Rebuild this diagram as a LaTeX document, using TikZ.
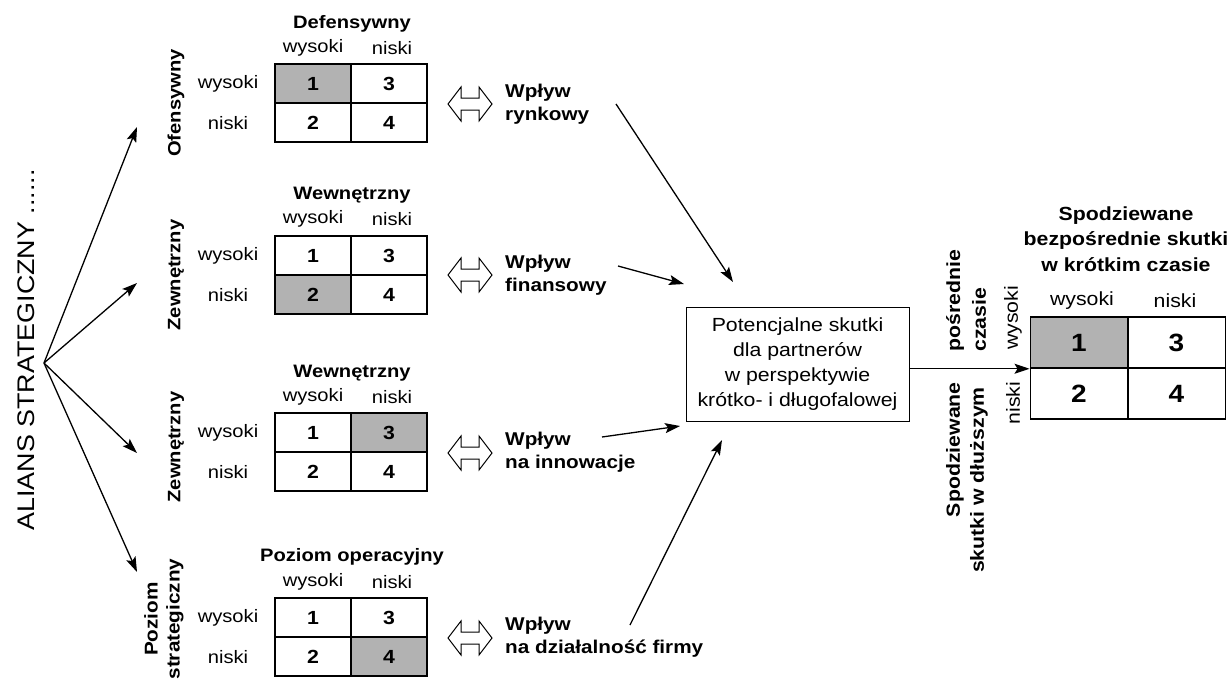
\documentclass[tikz,border=0pt]{standalone}
\usepackage{fontspec}
\setmainfont[FakeStretch=1.12]{Liberation Sans}
\usetikzlibrary{arrows.meta}
\begin{document}
\begin{tikzpicture}[x=1pt,y=-1pt,
  txt/.style={inner sep=0pt, font=\fontsize{18}{21}\selectfont},
  btxt/.style={inner sep=0pt, font=\fontsize{18}{21}\selectfont\bfseries},
  wtxt/.style={inner sep=0pt, align=left, font=\fontsize{18.5}{23}\selectfont\bfseries},
  cell/.style={draw, line width=1.5pt, minimum width=76pt, minimum height=39pt, inner sep=0pt, font=\fontsize{19}{21}\selectfont\bfseries},
  rcell/.style={cell, minimum width=97.5pt, minimum height=51pt, font=\fontsize{25}{28}\selectfont\bfseries},
  shaded/.style={fill=black!30},
  arr/.style={line width=1.3pt, -{Stealth[length=15pt,width=10pt,inset=3pt]}},
  dblarrow/.pic={\draw[line width=1pt, line join=miter]
     (-22,0) -- (-9,-17) -- (-9,-6) -- (9,-6) -- (9,-17) -- (22,0)
     -- (9,17) -- (9,6) -- (-9,6) -- (-9,17) -- cycle;}
]
\useasboundingbox (0,0) rectangle (1228,683);

% left title and fan arrows
\node[txt, font=\fontsize{24}{28}\selectfont, rotate=90] (alians) at (26,350) {ALIANS STRATEGICZNY ......};
\coordinate (o) at (44,363);
\coordinate (t1) at (137,127);
\coordinate (t2) at (137,283);
\coordinate (t3) at (137,453);
\coordinate (t4) at (137,572);
\foreach \t in {t1,t2,t3,t4} \draw[arr] (o) -- (\t);

% ---------- matrix 1 ----------
\node[btxt] (m1t) at (352,24) {Defensywny};
\node[txt] (m1h1) at (313,48) {wysoki};
\node[txt] (m1h2) at (392,48) {niski};
\node[txt] (m1r1) at (228,84) {wysoki};
\node[txt] (m1r2) at (228,123) {niski};
\node[btxt, rotate=90] (m1s) at (176,103) {Ofensywny};
\node[cell, shaded] (m1a) at (313,83.5) {1};
\node[cell] (m1b) at (389,83.5) {3};
\node[cell] (m1c) at (313,122.5) {2};
\node[cell] (m1d) at (389,122.5) {4};

% ---------- matrix 2 ----------
\node[btxt] (m2t) at (352,195) {Wewnętrzny};
\node[txt] (m2h1) at (313,219) {wysoki};
\node[txt] (m2h2) at (392,219) {niski};
\node[txt] (m2r1) at (228,256) {wysoki};
\node[txt] (m2r2) at (228,295) {niski};
\node[btxt, rotate=90] (m2s) at (176,275) {Zewnętrzny};
\node[cell] (m2a) at (313,255.5) {1};
\node[cell] (m2b) at (389,255.5) {3};
\node[cell, shaded] (m2c) at (313,294.5) {2};
\node[cell] (m2d) at (389,294.5) {4};

% ---------- matrix 3 ----------
\node[btxt] (m3t) at (352,373) {Wewnętrzny};
\node[txt] (m3h1) at (313,397) {wysoki};
\node[txt] (m3h2) at (392,397) {niski};
\node[txt] (m3r1) at (228,433) {wysoki};
\node[txt] (m3r2) at (228,472) {niski};
\node[btxt, rotate=90] (m3s) at (176,447) {Zewnętrzny};
\node[cell] (m3a) at (313,432.5) {1};
\node[cell, shaded] (m3b) at (389,432.5) {3};
\node[cell] (m3c) at (313,471.5) {2};
\node[cell] (m3d) at (389,471.5) {4};

% ---------- matrix 4 ----------
\node[btxt] (m4t) at (352,557) {Poziom operacyjny};
\node[txt] (m4h1) at (313,582) {wysoki};
\node[txt] (m4h2) at (392,582) {niski};
\node[txt] (m4r1) at (228,618) {wysoki};
\node[txt] (m4r2) at (228,657) {niski};
\node[btxt, rotate=90, align=center, font=\fontsize{18.5}{22}\selectfont\bfseries] (m4s) at (164,619) {Poziom\\strategiczny};
\node[cell] (m4a) at (313,617.5) {1};
\node[cell] (m4b) at (389,617.5) {3};
\node[cell] (m4c) at (313,656.5) {2};
\node[cell, shaded] (m4d) at (389,656.5) {4};

% ---------- double arrows and influence labels ----------
\pic at (470,104) {dblarrow};
\pic at (470,275) {dblarrow};
\pic at (470,453) {dblarrow};
\pic at (470,638) {dblarrow};
\node[wtxt, anchor=west] (w1) at (505,104) {Wpływ\\rynkowy};
\node[wtxt, anchor=west] (w2) at (505,275) {Wpływ\\finansowy};
\node[wtxt, anchor=west] (w3) at (505,452) {Wpływ\\na innowacje};
\node[wtxt, anchor=west] (w4) at (505,637) {Wpływ\\na działalność firmy};

% ---------- central box ----------
\node[draw, line width=1pt, minimum width=223pt, minimum height=114pt, align=center, inner sep=0pt,
      font=\fontsize{19}{25}\selectfont] (box) at (797.5,364) {Potencjalne skutki\\dla partnerów\\w perspektywie\\krótko- i długofalowej};

\coordinate (s1) at (616,104);  \coordinate (e1) at (733,282);
\coordinate (s2) at (618,266);  \coordinate (e2) at (684,284);
\coordinate (s3) at (602,437);  \coordinate (e3) at (680,426);
\coordinate (s4) at (630,625);  \coordinate (e4) at (722,440);
\draw[arr] (s1) -- (e1);
\draw[arr] (s2) -- (e2);
\draw[arr] (s3) -- (e3);
\draw[arr] (s4) -- (e4);

% ---------- right matrix ----------
\node[btxt, align=center, font=\fontsize{19}{25.5}\selectfont\bfseries] (rt) at (1126,239) {Spodziewane\\bezpośrednie skutki\\w krótkim czasie};
\node[txt, font=\fontsize{19}{22}\selectfont] (rh1) at (1082,301) {wysoki};
\node[txt, font=\fontsize{19}{22}\selectfont] (rh2) at (1175,301) {niski};
\node[txt, font=\fontsize{19}{22}\selectfont, rotate=90] (rr1) at (1013,318) {wysoki};
\node[txt, font=\fontsize{19}{22}\selectfont, rotate=90] (rr2) at (1013,403) {niski};
\node[rcell, shaded] (ra) at (1079,342.5) {1};
\node[rcell] (rb) at (1176.5,342.5) {3};
\node[rcell] (rc) at (1079,393.5) {2};
\node[rcell] (rd) at (1176.5,393.5) {4};

\node[btxt, rotate=90, anchor=west, font=\fontsize{19}{22}\selectfont\bfseries] (v1) at (955,352) {pośrednie};
\node[btxt, rotate=90, anchor=west, font=\fontsize{19}{22}\selectfont\bfseries] (v2) at (979,352) {czasie};
\node[btxt, rotate=90, anchor=east, font=\fontsize{19}{22}\selectfont\bfseries] (v3) at (955,382) {Spodziewane};
\node[btxt, rotate=90, anchor=east, font=\fontsize{19}{22}\selectfont\bfseries] (v4) at (979,387) {skutki w dłuższym};

\draw[arr] (box.east |- ra.south west) -- (ra.south west);
\end{tikzpicture}
\end{document}
